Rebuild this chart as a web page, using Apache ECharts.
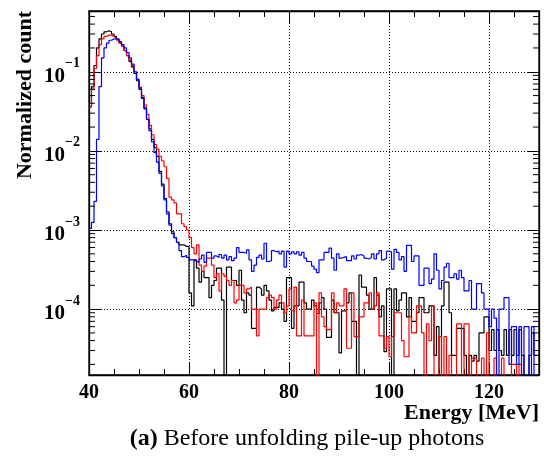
<!DOCTYPE html>
<html>
<head>
<meta charset="utf-8">
<script src="https://cdn.jsdelivr.net/npm/echarts@6/dist/echarts.min.js"></script>
<style>
  html, body { margin: 0; padding: 0; background: #fff; }
  #chart { width: 544px; height: 461px; }
</style>
</head>
<body>
<div id="chart"></div>
<script>
// Histogram binning: 180 bins of 0.5 MeV from 40 to 130 MeV
const binLow = 40;
const binWidth = 0.5;
const xMin = 40, xMax = 130;
const yMin = 1.47e-5, yMax = 0.586;

// Normalized counts per bin
const black = [
  0.036,0.065,0.12,0.20,0.26,0.30,0.32,0.33,0.32,0.30,
  0.28,0.26,0.235,0.21,0.185,0.16,0.135,0.115,0.095,0.077,
  0.060,0.046,0.034,0.025,0.019,0.014,0.011,0.0085,0.0055,0.0038,
  0.0025,0.0017,0.0012,0.00095,0.0008,0.0007,0.00065,0.00065,0.00062,0.00062,
  1.6e-4,1.1e-4,4.2e-4,3.3e-4,2.2e-4,3.0e-4,2.5e-4,2.5e-4,1.4e-4,2.0e-4,
  2.3e-4,3.3e-4,3.3e-4,1.3e-4,0,3.4e-4,3.4e-4,2.3e-4,2.3e-4,2.0e-4,
  3.1e-4,1.3e-4,9e-5,1.6e-4,1.5e-4,5.7e-5,5.7e-5,1.9e-4,1.8e-4,1.5e-4,
  2.0e-4,1.7e-4,1.3e-4,9.5e-5,1.05e-4,1.05e-4,1.2e-4,1.0e-4,7e-5,2.5e-4,
  2.5e-4,5.7e-5,1.1e-4,1.1e-4,2.2e-4,2.2e-4,1.2e-4,1.0e-4,1.0e-4,1.3e-4,
  1.1e-4,8.8e-5,1.2e-4,1.4e-4,1.0e-4,4.4e-5,4.4e-5,1.3e-4,9e-5,9e-5,
  2.8e-5,9.5e-5,9.5e-5,1.2e-4,1.6e-4,7e-5,7e-5,0,2.7e-4,1.9e-4,
  1.9e-4,1.5e-4,1.0e-4,1.0e-4,2.5e-4,1.5e-4,8e-5,1.1e-4,2.9e-5,1.8e-4,
  1.8e-4,0,1.8e-4,9.5e-5,1.3e-4,1.6e-4,1.6e-4,8e-5,1.4e-4,7e-5,
  7e-5,9e-5,1.4e-4,1.4e-4,9e-5,9e-5,1.1e-4,1.1e-4,2.6e-5,6e-5,
  0,1.1e-4,2.2e-4,2.2e-4,9e-5,2.6e-5,2.6e-5,5.7e-5,5.7e-5,5.7e-5,
  2.6e-5,0,2.6e-5,2.2e-5,2.6e-5,2.2e-5,5e-5,5e-5,8e-5,8e-5,
  3e-5,5.5e-5,3e-5,5.5e-5,3e-5,2.6e-5,5.5e-5,2.6e-5,5.5e-5,2.6e-5,
  5.5e-5,2.6e-5,5.5e-5,2.6e-5,0,0,2.6e-5,5e-5,2.6e-5,2.6e-5
];

const red = [
  0.036,0.060,0.11,0.16,0.22,0.26,0.28,0.29,0.29,0.28,
  0.265,0.25,0.23,0.21,0.185,0.16,0.14,0.12,0.10,0.08,
  0.064,0.05,0.038,0.029,0.021,0.016,0.012,0.0105,0.0085,0.0075,
  0.0063,0.0045,0.0026,0.0024,0.0022,0.0016,0.0016,0.0012,0.0011,0.0010,
  8e-4,6e-4,5e-4,6.5e-4,3.6e-4,3.0e-4,3.5e-4,4.4e-4,4.4e-4,3.6e-4,
  2.5e-4,2.8e-4,1.7e-4,2.8e-4,2.6e-4,2.3e-4,2.0e-4,2.3e-4,1.2e-4,1.3e-4,
  2.0e-4,2.0e-4,1.6e-4,1.8e-4,1.9e-4,1.0e-4,1.0e-4,4.6e-5,1.0e-4,1.0e-4,
  1.0e-4,1.4e-4,1.5e-4,1.4e-4,1.0e-4,1.3e-4,1.5e-4,1.2e-4,9e-5,1.1e-4,
  1.8e-4,9.5e-5,1.9e-4,4.6e-5,4.6e-5,1.3e-4,4.6e-5,4.6e-5,4.6e-5,4.6e-5,
  1.2e-4,0,1.6e-4,8e-5,6e-5,5.5e-5,5.5e-5,1.6e-4,9e-5,1.2e-4,
  1.1e-4,1.1e-4,1.8e-4,3.2e-5,3.2e-5,1.6e-4,4.5e-5,4.5e-5,8e-5,8e-5,
  1.2e-4,1.2e-4,1.6e-4,1.0e-4,1.1e-4,1.6e-4,4.6e-5,4.6e-5,3.2e-5,4.5e-5,
  2.5e-5,4.5e-5,9e-5,9e-5,9e-5,4e-5,2.5e-5,2.5e-5,8e-5,5e-5,
  5e-5,1.1e-4,1.1e-4,5e-5,0,6.5e-5,4e-5,1.1e-4,0,0,
  4.5e-5,0,4.5e-5,0,2.6e-5,0,0,6.5e-5,6.5e-5,0,
  6.5e-5,6.5e-5,0,2.4e-5,2.4e-5,0,0,2.4e-5,0,5e-5,
  0,0,2.4e-5,0,0,2.4e-5,0,0,0,2e-5,
  2e-5,0,2e-5,0,0,0,0,0,0,0
];

const blue = [
  1.05e-3,1.25e-3,2.3e-3,0.014,0.065,0.15,0.20,0.23,0.25,0.26,
  0.26,0.255,0.24,0.22,0.20,0.175,0.15,0.125,0.10,0.08,
  0.062,0.047,0.035,0.025,0.018,0.013,0.0095,0.0072,0.0052,0.0036,
  0.0024,0.0016,0.00115,0.0009,0.0008,0.0007,0.00055,0.00046,0.00048,0.00045,
  4.2e-4,4.2e-4,4.0e-4,3.9e-4,4.3e-4,4.8e-4,3.9e-4,5.2e-4,5.2e-4,4.4e-4,
  4.7e-4,4.5e-4,4.9e-4,4.4e-4,4.8e-4,4.2e-4,4.6e-4,4.1e-4,4.4e-4,6.0e-4,
  5.2e-4,5.2e-4,5.1e-4,5.6e-4,4.2e-4,3.0e-4,3.6e-4,4.5e-4,4.8e-4,4.3e-4,
  6.8e-4,4.0e-4,4.1e-4,5.5e-4,5.3e-4,5.4e-4,5.0e-4,5.4e-4,3.4e-4,5.4e-4,
  5.0e-4,5.3e-4,5.0e-4,5.3e-4,4.8e-4,5.2e-4,4.4e-4,4.0e-4,4.0e-4,3.5e-4,
  3.2e-4,2.9e-4,4.2e-4,4.2e-4,5.2e-4,5.2e-4,5.9e-4,4.4e-4,3.1e-4,5.0e-4,
  4.4e-4,4.5e-4,4.6e-4,4.1e-4,4.1e-4,4.7e-4,4.3e-4,4.8e-4,4.9e-4,4.7e-4,
  4.4e-4,4.3e-4,4.5e-4,5.0e-4,4.3e-4,5.0e-4,5.5e-4,4.2e-4,4.4e-4,5.4e-4,
  5.3e-4,3.2e-4,5.7e-4,5.2e-4,4.2e-4,4.6e-4,3.0e-4,6.4e-4,6.4e-4,4.0e-4,
  4.7e-4,4.7e-4,2.0e-4,2.0e-4,3.3e-4,3.3e-4,2.1e-4,2.4e-4,5.0e-4,3.1e-4,
  1.8e-4,2.3e-4,3.4e-4,3.8e-4,2.5e-4,2.5e-4,2.8e-4,2.4e-4,3.1e-4,2.5e-4,
  1.7e-4,1.7e-4,2.3e-4,1.0e-4,1.0e-4,2.1e-4,2.1e-4,1.6e-4,1.0e-4,1.0e-4,
  6.0e-5,1.0e-4,7.7e-5,0,1.0e-4,1.0e-4,1.4e-4,1.4e-4,2.0e-5,6.0e-5,
  6.0e-5,2.0e-5,6.0e-5,0,6.0e-5,6.0e-5,0,6.0e-5,0,0
];

// Axis ticks
const xMajorInterval = 20;
const yMinorTicks = [
  2e-5,3e-5,4e-5,5e-5,6e-5,7e-5,8e-5,9e-5,
  2e-4,3e-4,4e-4,5e-4,6e-4,7e-4,8e-4,9e-4,
  2e-3,3e-3,4e-3,5e-3,6e-3,7e-3,8e-3,9e-3,
  2e-2,3e-2,4e-2,5e-2,6e-2,7e-2,8e-2,9e-2,
  2e-1,3e-1,4e-1,5e-1
];

const FONT = '"Liberation Serif", "Times New Roman", serif';
const emptyFloor = 1e-9; // empty bins drop below the visible range on the log axis

// Turn per-bin contents into step-line points at the bin edges
function histPoints(values) {
  const pts = values.map((v, i) => [binLow + i * binWidth, v > 0 ? v : emptyFloor]);
  pts.push([binLow + values.length * binWidth, pts[pts.length - 1][1]]);
  return pts;
}

function histSeries(values, color, z) {
  return {
    type: 'line',
    step: 'end',
    data: histPoints(values),
    showSymbol: false,
    symbol: 'none',
    clip: true,
    z: z,
    lineStyle: { color: color, width: 1.2 },
    emphasis: { disabled: true },
    animation: false
  };
}

function expLabel(v) {
  const e = Math.round(Math.log10(v));
  return '{b|10}{s|' + (e < 0 ? '\u2212' : '') + Math.abs(e) + '}';
}

const chart = echarts.init(document.getElementById('chart'), null, { renderer: 'canvas' });

const axisLineStyle = { color: '#000', width: 1.3 };

chart.setOption({
  backgroundColor: '#fff',
  animation: false,
  grid: {
    left: 89, right: 5, top: 11, bottom: 86,
    containLabel: false,
    outerBoundsMode: 'none',
    show: true, borderColor: '#000', borderWidth: 1.3, backgroundColor: 'transparent'
  },
  xAxis: [
    {
      type: 'value', min: xMin, max: xMax, interval: xMajorInterval, position: 'bottom',
      axisLine: { show: true, onZero: false, lineStyle: axisLineStyle },
      axisTick: { show: true, inside: true, length: 12, lineStyle: { color: '#000', width: 1 } },
      minorTick: { show: true, splitNumber: 4, length: 6, lineStyle: { color: '#000', width: 1 } },
      axisLabel: {
        show: true, margin: 8, showMaxLabel: false,
        fontFamily: FONT, fontWeight: 'bold', fontSize: 20, color: '#000'
      },
      splitLine: { show: true, lineStyle: { color: '#000', width: 1, type: [1, 2] } },
      minorSplitLine: { show: false }
    },
    {
      type: 'value', min: xMin, max: xMax, interval: xMajorInterval, position: 'top',
      axisLine: { show: true, onZero: false, lineStyle: axisLineStyle },
      axisTick: { show: true, inside: true, length: 12, lineStyle: { color: '#000', width: 1 } },
      minorTick: { show: true, splitNumber: 4, length: 6, lineStyle: { color: '#000', width: 1 } },
      axisLabel: { show: false },
      splitLine: { show: false }
    }
  ],
  yAxis: [
    {
      type: 'log', logBase: 10, min: yMin, max: yMax, position: 'left',
      axisLine: { show: true, onZero: false, lineStyle: axisLineStyle },
      axisTick: { show: true, inside: true, length: 12, lineStyle: { color: '#000', width: 1 } },
      minorTick: { show: false },
      axisLabel: {
        show: true, margin: 9, showMinLabel: false, showMaxLabel: false,
        formatter: expLabel,
        rich: {
          b: { fontFamily: FONT, fontWeight: 'bold', fontSize: 21, color: '#000', lineHeight: 30, verticalAlign: 'bottom' },
          s: { fontFamily: FONT, fontWeight: 'bold', fontSize: 14, color: '#000', lineHeight: 12, verticalAlign: 'top' }
        }
      },
      splitLine: { show: true, lineStyle: { color: '#000', width: 1, type: [1, 2] } }
    },
    {
      type: 'log', logBase: 10, min: yMin, max: yMax, position: 'right',
      axisLine: { show: true, onZero: false, lineStyle: axisLineStyle },
      axisTick: { show: true, inside: true, length: 12, lineStyle: { color: '#000', width: 1 } },
      axisLabel: { show: false },
      splitLine: { show: false }
    }
  ],
  series: [
    histSeries(black, '#000000', 3),
    histSeries(red, '#ff0000', 4),
    histSeries(blue, '#0000ff', 5),
    {
      // logarithmic minor ticks on the left and right frame edges
      type: 'custom',
      coordinateSystem: 'cartesian2d',
      xAxisIndex: 0, yAxisIndex: 0,
      clip: false, silent: true, z: 6,
      data: yMinorTicks.map(v => [xMin, v]),
      renderItem: function (params, api) {
        const v = api.value(1);
        const l = api.coord([xMin, v]);
        const r = api.coord([xMax, v]);
        return {
          type: 'group',
          children: [
            { type: 'line', shape: { x1: l[0], y1: l[1], x2: l[0] + 6, y2: l[1] }, style: { stroke: '#000', lineWidth: 1 } },
            { type: 'line', shape: { x1: r[0], y1: r[1], x2: r[0] - 6, y2: r[1] }, style: { stroke: '#000', lineWidth: 1 } }
          ]
        };
      }
    }
  ],
  graphic: [
    {
      type: 'text', x: 25, y: 11, rotation: Math.PI / 2,
      style: { text: 'Normalized count', fontFamily: FONT, fontWeight: 'bold', fontSize: 22, fill: '#000', align: 'right', verticalAlign: 'middle' }
    },
    {
      type: 'text', x: 539, y: 413,
      style: { text: 'Energy [MeV]', fontFamily: FONT, fontWeight: 'bold', fontSize: 22, fill: '#000', align: 'right', verticalAlign: 'middle' }
    },
    {
      type: 'text', x: 307, y: 439,
      style: {
        text: '{a|(a)} Before unfolding pile-up photons',
        fontFamily: FONT, fontSize: 24, fill: '#000', align: 'center', verticalAlign: 'middle',
        rich: { a: { fontFamily: FONT, fontSize: 24, fontWeight: 'bold', fill: '#000' } }
      }
    }
  ]
});
</script>
</body>
</html>
